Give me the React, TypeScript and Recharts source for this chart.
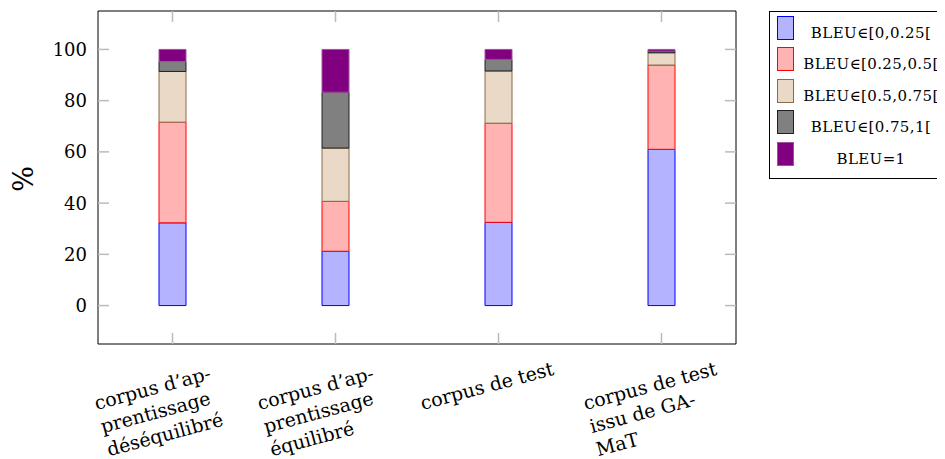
import React from 'react';
import { BarChart, Bar, Line, XAxis, YAxis, Legend } from 'recharts';

const categories = [
  'corpus d’apprentissage déséquilibré',
  'corpus d’apprentissage équilibré',
  'corpus de test',
  'corpus de test issu de GA-MaT',
];
const categoryLines: string[][] = [
  ['corpus d’ap-', 'prentissage', 'déséquilibré'],
  ['corpus d’ap-', 'prentissage', 'équilibré'],
  ['corpus de test'],
  ['corpus de test', 'issu de GA-', 'MaT'],
];

const bleu0 = [32.3, 21.2, 32.5, 61.0];
const bleu025 = [39.3, 19.5, 38.7, 32.9];
const bleu05 = [19.8, 20.8, 20.4, 4.8];
const bleu075 = [3.9, 21.8, 4.5, 0.6];
const bleu1 = [4.7, 16.7, 3.9, 0.7];

const seriesNames = ['BLEU∈[0,0.25[', 'BLEU∈[0.25,0.5[', 'BLEU∈[0.5,0.75[', 'BLEU∈[0.75,1[', 'BLEU=1'];
const seriesKeys = ['b0', 'b025', 'b05', 'b075', 'b1'];
const seriesFill = ['#b3b3ff', '#ffb3b3', '#ead9c6', '#808080', '#800080'];
const seriesStroke = ['#0000ff', '#ff0000', '#8c6a48', '#202020', '#a050a0'];

const yTicks = [0, 20, 40, 60, 80, 100];

const data = categories.map((c, i) => ({
  name: c,
  b0: bleu0[i],
  b025: bleu025[i],
  b05: bleu05[i],
  b075: bleu075[i],
  b1: bleu1[i],
}));

const FONT = 'DejaVu Serif';
const TICK_LEN = 11;

const XTick = (props: any) => {
  const { x, y, payload } = props;
  const idx = categories.indexOf(payload.value);
  const lines = idx >= 0 ? categoryLines[idx] : [String(payload.value)];
  return (
    <g transform={`translate(${x - 76},${y + 66}) rotate(-15)`}>
      {lines.map((l, i) => (
        <text key={i} x={0} y={i * 24} textAnchor="start" fontFamily={FONT} fontSize={19} fill="#000">
          {l}
        </text>
      ))}
    </g>
  );
};

const EmptyTick = () => <g />;

const LegendContent = () => (
  <div
    style={{
      border: '1px solid #000',
      background: '#fff',
      width: 180,
      height: 168,
      boxSizing: 'border-box',
      paddingTop: 4,
      fontFamily: FONT,
      fontSize: 15,
    }}
  >
    {seriesNames.map((n, i) => (
      <div key={n} style={{ position: 'relative', height: 31.4 }}>
        <div
          style={{
            position: 'absolute',
            left: 7,
            top: 0,
            width: 15,
            height: 22,
            background: seriesFill[i],
            border: `1px solid ${seriesStroke[i]}`,
          }}
        />
        <div
          style={{
            position: 'absolute',
            left: 30,
            top: 7,
            width: 142,
            textAlign: 'center',
            whiteSpace: 'nowrap',
            letterSpacing: 0.4,
            lineHeight: '20px',
          }}
        >
          {n}
        </div>
      </div>
    ))}
  </div>
);

export default function App() {
  return (
    <div style={{ width: 937, height: 451, fontFamily: FONT }}>
      <BarChart
        width={937}
        height={451}
        data={data}
        margin={{ top: 2, right: 208, left: 0, bottom: 0 }}
      >
        <XAxis
          dataKey="name"
          xAxisId="bottom"
          height={115}
          padding={{ left: -7, right: -7 }}
          tickSize={-TICK_LEN}
          tickMargin={TICK_LEN}
          tickLine={{ stroke: '#bbbbbb', strokeWidth: 1.5 }}
          axisLine={{ stroke: '#000', strokeWidth: 1 }}
          tick={<XTick />}
          interval={0}
        />
        <XAxis
          dataKey="name"
          xAxisId="top"
          orientation="top"
          height={1}
          padding={{ left: -7, right: -7 }}
          tickSize={-TICK_LEN}
          tickLine={{ stroke: '#bbbbbb', strokeWidth: 1.5 }}
          axisLine={{ stroke: '#000', strokeWidth: 1 }}
          tick={<EmptyTick />}
          interval={0}
        />
        <YAxis
          yAxisId="left"
          width={90}
          type="number"
          domain={[-15, 115]}
          ticks={yTicks}
          allowDataOverflow
          tickSize={-TICK_LEN}
          tickMargin={TICK_LEN + 11}
          tickLine={{ stroke: '#bbbbbb', strokeWidth: 1.5 }}
          axisLine={{ stroke: '#000', strokeWidth: 1 }}
          tick={{ fontFamily: FONT, fontSize: 18, fill: '#000' }}
          label={{
            content: (p: any) => {
              const vb = p.viewBox || { x: 0, y: 0, width: 90, height: 333 };
              const cx = vb.x + 15;
              const cy = vb.y + vb.height / 2 + 1.5;
              return (
                <text
                  x={cx}
                  y={cy}
                  transform={`rotate(-90,${cx},${cy})`}
                  textAnchor="middle"
                  dominantBaseline="central"
                  fontFamily={FONT}
                  fontSize={27}
                  fill="#000"
                >
                  %
                </text>
              );
            },
          }}
        />
        <YAxis
          yAxisId="right"
          orientation="right"
          width={1}
          type="number"
          domain={[-15, 115]}
          ticks={yTicks}
          allowDataOverflow
          tickSize={-TICK_LEN}
          tickLine={{ stroke: '#bbbbbb', strokeWidth: 1.5 }}
          axisLine={{ stroke: '#000', strokeWidth: 1 }}
          tick={<EmptyTick />}
        />
        <Legend
          layout="horizontal"
          verticalAlign="middle"
          align="center"
          wrapperStyle={{ left: 761, top: 3, width: 180, height: 168 }}
          content={<LegendContent />}
        />
        {seriesKeys.map((k, i) => (
          <Bar
            key={k}
            dataKey={k}
            name={seriesNames[i]}
            stackId="s"
            xAxisId="bottom"
            yAxisId="left"
            barSize={27}
            fill={seriesFill[i]}
            stroke={seriesStroke[i]}
            strokeWidth={1}
            isAnimationActive={false}
          />
        ))}
        <Line
          dataKey="b0"
          xAxisId="top"
          yAxisId="right"
          stroke="none"
          dot={false}
          activeDot={false}
          legendType="none"
          isAnimationActive={false}
        />
      </BarChart>
    </div>
  );
}
